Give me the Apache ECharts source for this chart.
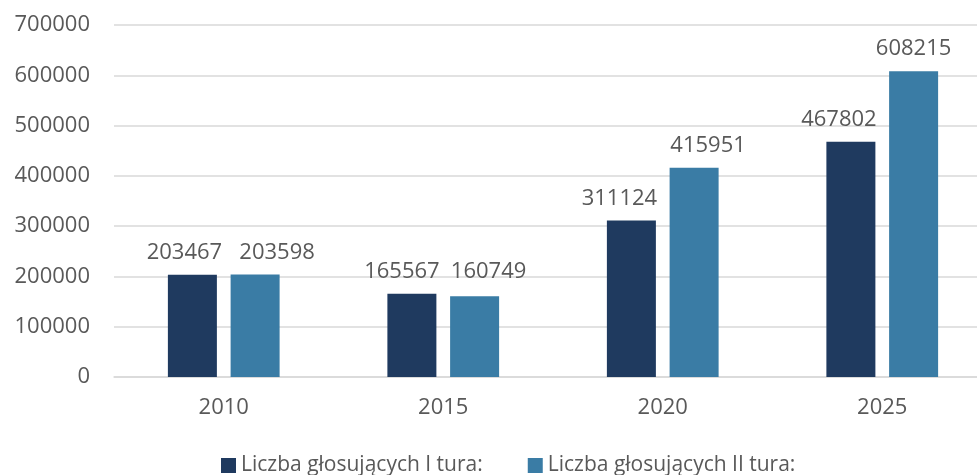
<!DOCTYPE html>
<html><head><meta charset="utf-8">
<script src="https://cdn.jsdelivr.net/npm/echarts@6/dist/echarts.min.js"></script>
<style>html,body{margin:0;padding:0;background:#fff}#c{width:977px;height:475px}</style>
</head><body><div id="c"></div>
<script>
const categories = ['2010', '2015', '2020', '2025'];
const seriesNames = ['Liczba głosujących I tura:', 'Liczba głosujących II tura:'];
const round1 = [203467, 165567, 311124, 467802];
const round2 = [203598, 160749, 415951, 608215];
const yTicks = [0, 100000, 200000, 300000, 400000, 500000, 600000, 700000];

// label nudges (style only, px) to mimic the reference's label placement
const offsets1 = [[-8, 0], [-10, 0], [-12, 0], [-12, 0]];
const offsets2 = [[22, 0], [14, -2], [14, 0], [0, 0]];

const colors = ['#1F3A5F', '#3A7CA5'];
const font = 'Open Sans';
const textColor = '#595959';
const chart = echarts.init(document.getElementById('c'));
const lbl = {show: true, position: 'top', distance: 11, color: textColor, fontSize: 22, fontFamily: font};
const mk = (vals, offs) => vals.map((v, i) => ({value: v, label: {offset: offs[i]}}));
chart.setOption({
  animation: false,
  color: colors,
  grid: {left: 114, width: 878, top: 25, bottom: 98, containLabel: false, outerBoundsMode: 'none'},
  legend: {
    top: 450, left: 216, itemWidth: 15, itemHeight: 15, itemGap: 45, icon: 'rect',
    textStyle: {color: textColor, fontSize: 21, fontFamily: font},
    data: seriesNames
  },
  xAxis: {
    type: 'category', data: categories,
    axisLine: {lineStyle: {color: '#d9d9d9', width: 1.5}},
    axisTick: {show: false},
    axisLabel: {color: textColor, fontSize: 22, fontFamily: font, margin: 20}
  },
  yAxis: {
    type: 'value', min: yTicks[0], max: yTicks[yTicks.length - 1], interval: yTicks[1] - yTicks[0],
    axisLine: {show: false}, axisTick: {show: false},
    splitLine: {lineStyle: {color: '#d9d9d9', width: 1.5}},
    axisLabel: {color: textColor, fontSize: 22, fontFamily: font, margin: 24, formatter: v => String(v)}
  },
  series: [
    {name: seriesNames[0], type: 'bar', data: mk(round1, offsets1), barWidth: 49, barGap: '28%', label: lbl},
    {name: seriesNames[1], type: 'bar', data: mk(round2, offsets2), barWidth: 49, barGap: '28%', label: lbl}
  ]
});
</script></body></html>
